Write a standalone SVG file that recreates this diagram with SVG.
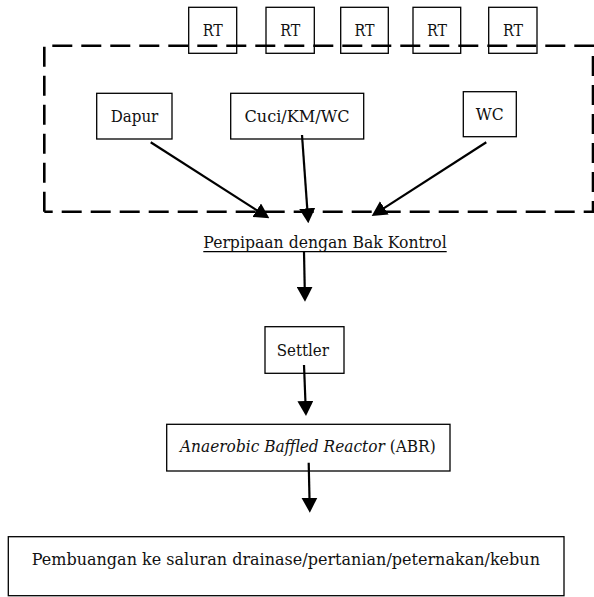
<svg xmlns="http://www.w3.org/2000/svg" width="594" height="597" viewBox="0 0 594 597">
<style>
.box{fill:none;stroke:#000;stroke-width:1.3}
.t{font-family:"DejaVu Serif","Liberation Serif",serif;font-size:17.5px;fill:#111}
.arr{stroke:#000;stroke-width:2.2;fill:none;marker-end:url(#ah)}
.dash{fill:none;stroke:#000;stroke-width:2.6;stroke-dasharray:20 9}
</style>
<defs>
<marker id="ah" markerUnits="userSpaceOnUse" viewBox="0 0 15 16" refX="5" refY="8" markerWidth="15" markerHeight="16" orient="auto">
<path d="M0,0 L15,8 L0,16 Z" fill="#000"/>
</marker>
</defs>
<rect width="594" height="597" fill="#fff"/>
<g id="area">
<path class="dash" d="M44.3,211.7 L44.3,45.7 L593,45.7 L593,211.7 L44.3,211.7"/>
</g>
<g id="rt1"><rect class="box" x="188.7" y="7.3" width="48" height="46"/><text class="t" x="202.7" y="36" textLength="20" lengthAdjust="spacingAndGlyphs">RT</text></g>
<g id="rt2"><rect class="box" x="266" y="7.3" width="48.3" height="46"/><text class="t" x="280.2" y="36" textLength="20" lengthAdjust="spacingAndGlyphs">RT</text></g>
<g id="rt3"><rect class="box" x="340.7" y="7.3" width="47.6" height="46"/><text class="t" x="354.5" y="36" textLength="20" lengthAdjust="spacingAndGlyphs">RT</text></g>
<g id="rt4"><rect class="box" x="413" y="7.3" width="47.7" height="46"/><text class="t" x="426.9" y="36" textLength="20" lengthAdjust="spacingAndGlyphs">RT</text></g>
<g id="rt5"><rect class="box" x="488.7" y="7.3" width="48.3" height="46"/><text class="t" x="502.9" y="36" textLength="20" lengthAdjust="spacingAndGlyphs">RT</text></g>
<g id="dapur"><rect class="box" x="96.7" y="93.3" width="75.3" height="45.7"/><text class="t" x="110.7" y="122" textLength="47.6" lengthAdjust="spacingAndGlyphs">Dapur</text></g>
<g id="cuci"><rect class="box" x="230.7" y="93.3" width="133" height="45.7"/><text class="t" x="244.5" y="122" textLength="105" lengthAdjust="spacingAndGlyphs">Cuci/KM/WC</text></g>
<g id="wc"><rect class="box" x="463.3" y="91.7" width="53" height="45"/><text class="t" x="475.8" y="120" textLength="28" lengthAdjust="spacingAndGlyphs">WC</text></g>
<g id="perpipaan"><text class="t" x="203.3" y="248" textLength="243.4" lengthAdjust="spacingAndGlyphs">Perpipaan dengan Bak Kontrol</text><line x1="203.3" y1="251.6" x2="446.7" y2="251.6" stroke="#000" stroke-width="1.2"/></g>
<g id="settler"><rect class="box" x="265" y="326.7" width="79" height="46.6"/><text class="t" x="276.7" y="356" textLength="52.3" lengthAdjust="spacingAndGlyphs">Settler</text></g>
<g id="abr"><rect class="box" x="166.7" y="424.3" width="283.3" height="46.7"/><text class="t" x="180" y="452" textLength="255.7" lengthAdjust="spacingAndGlyphs"><tspan font-style="italic">Anaerobic Baffled Reactor</tspan> (ABR)</text></g>
<g id="pembuangan"><rect class="box" x="8.3" y="536.7" width="555.7" height="59"/><text class="t" x="31.7" y="565" textLength="508.3" lengthAdjust="spacingAndGlyphs">Pembuangan ke saluran drainase/pertanian/peternakan/kebun</text></g>
<g id="connectors">
<line class="arr" x1="150.7" y1="142.3" x2="260.9" y2="212.9"/>
<line class="arr" x1="302" y1="135" x2="307.6" y2="213.3"/>
<line class="arr" x1="486.3" y1="142.3" x2="380.1" y2="210.6"/>
<line class="arr" x1="304" y1="251.7" x2="304.8" y2="291.7"/>
<line class="arr" x1="304" y1="365" x2="305.6" y2="406"/>
<line class="arr" x1="308.7" y1="462.7" x2="309.6" y2="502.7"/>
</g>
</svg>
